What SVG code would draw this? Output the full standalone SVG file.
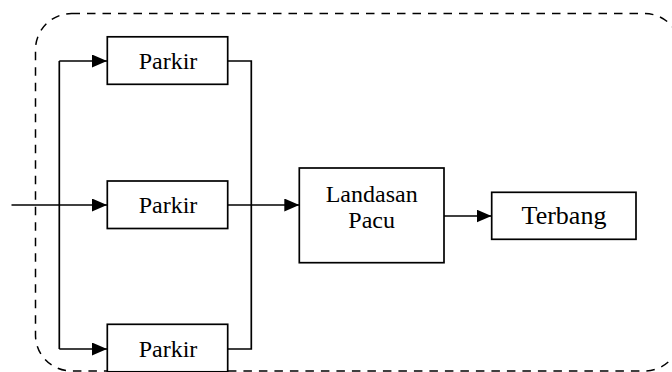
<svg xmlns="http://www.w3.org/2000/svg" width="672" height="372" viewBox="0 0 672 372">
<style>
.box{fill:#fff;stroke:#000;stroke-width:1.7}
text{font-family:'Liberation Serif','Times New Roman',serif;font-size:24px;fill:#000;text-anchor:middle}
.con{fill:none;stroke:#000;stroke-width:1.7}
.bound{fill:none;stroke:#000;stroke-width:1.5;stroke-dasharray:8.5 7}
</style>
<defs>
<marker id="ah" markerUnits="userSpaceOnUse" markerWidth="16" markerHeight="14" refX="15" refY="6.5" orient="auto">
<path d="M0,0 L15,6.5 L0,13 Z" fill="#000"/>
</marker>
</defs>
<rect class="bound" x="35.5" y="13.5" width="645" height="357.5" rx="36" ry="36"/>
<g id="connectors">
<line class="con" x1="11.5" y1="205" x2="107" y2="205" marker-end="url(#ah)"/>
<line class="con" x1="59.3" y1="61" x2="59.3" y2="349"/>
<polyline class="con" points="59.3,61 107,61" marker-end="url(#ah)"/>
<polyline class="con" points="59.3,349 107,349" marker-end="url(#ah)"/>
<polyline class="con" points="227.7,61 251.3,61 251.3,349 228,349"/>
<line class="con" x1="227.7" y1="205" x2="299.3" y2="205" marker-end="url(#ah)"/>
<line class="con" x1="444" y1="216" x2="491.5" y2="216" marker-end="url(#ah)"/>
</g>
<g id="parkir1">
<rect class="box" x="107.3" y="36.8" width="120.4" height="47.5"/>
<text x="168" y="69">Parkir</text>
</g>
<g id="parkir2">
<rect class="box" x="107.3" y="181" width="120.4" height="47.5"/>
<text x="168" y="213">Parkir</text>
</g>
<g id="parkir3">
<rect class="box" x="107.3" y="324.3" width="120.4" height="47.5"/>
<text x="168" y="357.3">Parkir</text>
</g>
<g id="landasan">
<rect class="box" x="299.3" y="168" width="144.7" height="94.7"/>
<text x="371.7" y="201.7">Landasan</text>
<text x="371.7" y="228.3">Pacu</text>
</g>
<g id="terbang">
<rect class="box" x="491.7" y="192.3" width="144.3" height="47"/>
<text x="564" y="224.3" style="font-size:26px">Terbang</text>
</g>
</svg>
